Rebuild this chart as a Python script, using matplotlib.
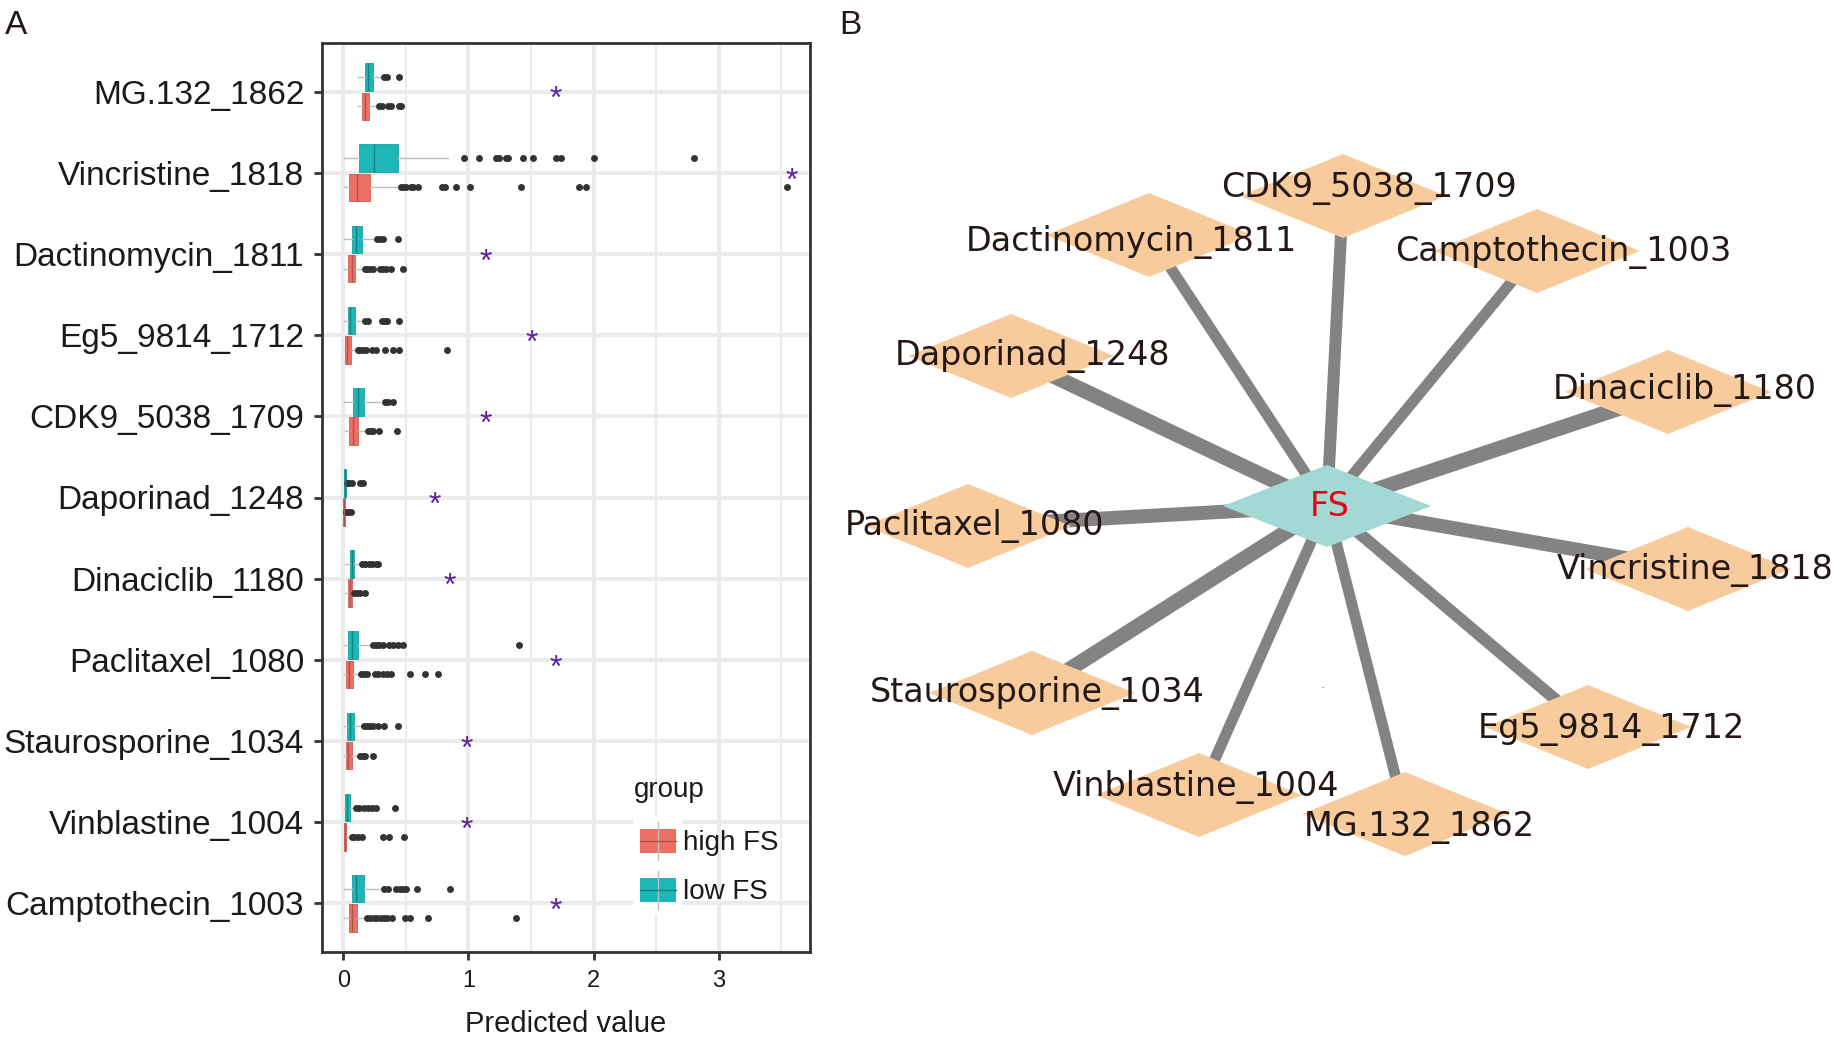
import matplotlib
matplotlib.use("Agg")
from matplotlib import pyplot as plt
from matplotlib.patches import Polygon, Rectangle

plt.rcParams['font.family'] = ['Liberation Sans', 'DejaVu Sans']

# painel A: valores previstos por droga (boxplot low FS / high FS)
drugs = ['MG.132_1862', 'Vincristine_1818', 'Dactinomycin_1811', 'Eg5_9814_1712',
         'CDK9_5038_1709', 'Daporinad_1248', 'Dinaciclib_1180', 'Paclitaxel_1080',
         'Staurosporine_1034', 'Vinblastine_1004', 'Camptothecin_1003']

low_q1 = [0.173, 0.122, 0.072, 0.035, 0.080, 0.008, 0.053, 0.039, 0.031, 0.017, 0.066]
low_med = [0.200, 0.245, 0.098, 0.053, 0.120, 0.012, 0.066, 0.066, 0.053, 0.028, 0.102]
low_q3 = [0.234, 0.434, 0.146, 0.090, 0.168, 0.019, 0.089, 0.121, 0.089, 0.053, 0.168]
low_lo = [0.120, 0.008, 0.008, 0.008, 0.008, 0.002, 0.010, 0.006, 0.006, 0.004, 0.008]
low_hi = [0.320, 0.833, 0.240, 0.160, 0.293, 0.025, 0.144, 0.226, 0.155, 0.089, 0.310]
low_out = [
    [0.325, 0.35, 0.445],
    [0.966, 1.086, 1.22, 1.245, 1.30, 1.32, 1.44, 1.52, 1.70, 1.744, 2.005, 2.80],
    [0.266, 0.29, 0.32, 0.44],
    [0.173, 0.20, 0.306, 0.33, 0.35, 0.445],
    [0.333, 0.36, 0.40],
    [0.027, 0.045, 0.067, 0.133, 0.16],
    [0.149, 0.177, 0.204, 0.232, 0.26, 0.281],
    [0.237, 0.26, 0.285, 0.314, 0.369, 0.397, 0.438, 0.474, 1.406],
    [0.169, 0.19, 0.215, 0.24, 0.281, 0.328, 0.438],
    [0.10, 0.128, 0.162, 0.196, 0.232, 0.259, 0.416],
    [0.328, 0.355, 0.424, 0.45, 0.475, 0.501, 0.589, 0.85],
]

high_q1 = [0.152, 0.048, 0.040, 0.016, 0.048, 0.000, 0.039, 0.025, 0.025, 0.006, 0.044]
high_med = [0.173, 0.106, 0.067, 0.027, 0.080, 0.004, 0.050, 0.045, 0.039, 0.012, 0.066]
high_q3 = [0.208, 0.216, 0.096, 0.059, 0.114, 0.010, 0.066, 0.075, 0.066, 0.025, 0.108]
high_lo = [0.120, 0.008, 0.008, 0.008, 0.013, 0.000, 0.012, 0.006, 0.008, 0.002, 0.008]
high_hi = [0.270, 0.445, 0.160, 0.106, 0.186, 0.018, 0.080, 0.127, 0.121, 0.053, 0.177]
high_out = [
    [0.285, 0.306, 0.36, 0.378, 0.445, 0.458],
    [0.46, 0.48, 0.50, 0.54, 0.56, 0.60, 0.79, 0.81, 0.90, 1.01, 1.42, 1.88, 1.94, 3.55],
    [0.173, 0.19, 0.21, 0.234, 0.29, 0.315, 0.34, 0.378, 0.48],
    [0.12, 0.133, 0.16, 0.178, 0.226, 0.26, 0.333, 0.394, 0.445, 0.828],
    [0.20, 0.218, 0.24, 0.288, 0.426],
    [0.025, 0.04, 0.06],
    [0.089, 0.108, 0.135, 0.171],
    [0.141, 0.163, 0.19, 0.254, 0.281, 0.314, 0.35, 0.383, 0.534, 0.652, 0.76],
    [0.135, 0.157, 0.177, 0.237],
    [0.066, 0.088, 0.115, 0.149, 0.314, 0.363, 0.487],
    [0.19, 0.217, 0.244, 0.271, 0.298, 0.325, 0.352, 0.39, 0.493, 0.534, 0.677, 1.38],
]

star_x = [1.70, 3.58, 1.14, 1.51, 1.14, 0.73, 0.85, 1.70, 0.99, 0.99, 1.70]

groups = ['high FS', 'low FS']
x_ticks = [0, 1, 2, 3]

# painel B: rede FS -> drogas
hub = 'FS'
net_nodes = ['Dactinomycin_1811', 'CDK9_5038_1709', 'Camptothecin_1003', 'Daporinad_1248',
             'Dinaciclib_1180', 'Paclitaxel_1080', 'Vincristine_1818', 'Staurosporine_1034',
             'Eg5_9814_1712', 'Vinblastine_1004', 'MG.132_1862']
edge_weight = [11, 12, 11, 15, 15, 14, 14, 15, 12, 11, 11]

# layout da rede (pixels da figura)
hub_xy = (1327, 506)
node_xy = [(1149, 235), (1343, 196), (1537, 251), (1011, 356), (1668, 392), (968, 526),
           (1688, 569), (1032, 693), (1588, 727), (1199, 795), (1405, 814)]
label_xy = [(1131, 239), (1369, 185), (1563, 249), (1032, 353), (1685, 387), (975, 523),
            (1695, 567), (1037, 690), (1611, 726), (1196, 784), (1419, 824)]

W, H = 1847, 1040
TEAL = '#1DB7B7'
SALMON = '#EE6F64'
GRID = '#EBEBEB'
INK = '#231815'

fig = plt.figure(figsize=(W / 100, H / 100), dpi=100)

ax = fig.add_axes([322 / W, 1 - 952 / H, (810 - 322) / W, (952 - 43) / H])


def stats(q1, med, q3, lo, hi, out):
    return [dict(q1=a, med=b, q3=c, whislo=d, whishi=e, fliers=f)
            for a, b, c, d, e, f in zip(q1, med, q3, lo, hi, out)]


pos = list(range(len(drugs)))
common = dict(widths=0.34, orientation='horizontal', patch_artist=True, showcaps=False,
              manage_ticks=False,
              whiskerprops=dict(color='#BDBDBD', linewidth=1.0),
              flierprops=dict(marker='o', markerfacecolor='#333333', markeredgecolor='none',
                              markersize=5))

ax.bxp(stats(low_q1, low_med, low_q3, low_lo, low_hi, low_out),
       positions=[p - 0.18 for p in pos],
       boxprops=dict(facecolor=TEAL, edgecolor='#18a0a0', linewidth=0.6),
       medianprops=dict(color='#128383', linewidth=1.0), **common)
ax.bxp(stats(high_q1, high_med, high_q3, high_lo, high_hi, high_out),
       positions=[p + 0.18 for p in pos],
       boxprops=dict(facecolor=SALMON, edgecolor='#d15e55', linewidth=0.6),
       medianprops=dict(color='#b0524a', linewidth=1.0), **common)

for i, sx in enumerate(star_x):
    ax.annotate('*', (sx, i), xytext=(0, -12), textcoords='offset points',
                ha='center', va='baseline', fontsize=23, color='#5D1E9C',
                annotation_clip=False)

ax.set_xlim(-0.17, 3.73)
ax.set_ylim(10.6, -0.6)
ax.set_xticks(x_ticks)
ax.set_xticks([0.5, 1.5, 2.5, 3.5], minor=True)
ax.set_yticks(pos)
ax.set_yticklabels(drugs, fontsize=24, color='#1a1a1a')
ax.set_xticklabels([str(t) for t in x_ticks], fontsize=17, color='#1a1a1a')
ax.set_xlabel('Predicted value', fontsize=21, color='#1a1a1a', labelpad=13)
ax.grid(which='major', color=GRID, linewidth=2.9)
ax.grid(which='minor', axis='x', color=GRID, linewidth=1.5)
ax.set_axisbelow(True)
ax.tick_params(which='major', length=5.8, width=2, color='#333333', pad=7)
ax.tick_params(which='minor', length=0)
for s in ax.spines.values():
    s.set_color('#333333')
    s.set_linewidth(2)

# camada em pixels para a legenda, letras e a rede
ov = fig.add_axes([0, 0, 1, 1])
ov.set_xlim(0, W)
ov.set_ylim(H, 0)
ov.axis('off')
ov.patch.set_alpha(0)
ov.set_zorder(3)

ov.add_patch(Rectangle((633, 817), 49, 98, facecolor='white', edgecolor='none'))
ov.text(634, 797, 'group', fontsize=20, color='#1a1a1a', va='baseline')
for k, (g, col, med_col, y0) in enumerate(zip(groups, [SALMON, TEAL], ['#b0524a', '#128383'], [829, 878])):
    ov.plot([658, 658], [y0 - 7, y0 + 31], color='#BDBDBD', lw=1.0)
    ov.add_patch(Rectangle((640, y0), 36, 24, facecolor=col, edgecolor='none'))
    ov.plot([640, 676], [y0 + 12, y0 + 12], color=med_col, lw=1.0)
    ov.text(683, y0 + 21, g, fontsize=20, color='#1a1a1a', va='baseline')

ov.text(5, 34, 'A', fontsize=24, color=INK, va='baseline')
ov.text(839, 34, 'B', fontsize=24, color=INK, va='baseline')


def diamond(cx, cy, hw, hh, color, z):
    ov.add_patch(Polygon([(cx - hw, cy), (cx, cy - hh), (cx + hw, cy), (cx, cy + hh)],
                         closed=True, facecolor=color, edgecolor='none', zorder=z))


hx, hy = hub_xy
for (nx, ny), w in zip(node_xy, edge_weight):
    ov.plot([hx, nx], [hy, ny], color='#838383', lw=w * 0.72, solid_capstyle='butt', zorder=1)

for (nx, ny) in node_xy:
    diamond(nx, ny, 103, 42, '#F8CB9C', 2)
diamond(hx, hy, 104, 41, '#A2D9D5', 2)

fs_net = 24
base = 0.5 * 0.729 * fs_net * 100 / 72
for name, (lx, ly) in zip(net_nodes, label_xy):
    ov.text(lx, ly + base, name, fontsize=fs_net, family='DejaVu Sans', color=INK,
            ha='center', va='baseline', zorder=4)
ov.text(1330, 504 + base, hub, fontsize=fs_net, family='DejaVu Sans', color='#E60012',
        ha='center', va='baseline', zorder=4)
ov.text(1323, 688, '-', fontsize=5, color='#555555', ha='center', va='center')

fig.savefig('out.png', dpi=100)
